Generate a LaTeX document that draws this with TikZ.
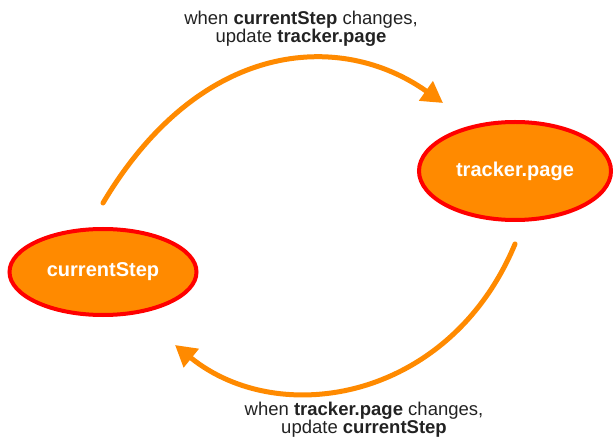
\documentclass[tikz,border=0pt]{standalone}
\usepackage{fontspec}
\setmainfont{Liberation Sans}
\usetikzlibrary{shapes.geometric,arrows.meta}
\definecolor{fillorange}{HTML}{FF8A00}
\definecolor{rimred}{HTML}{FF0000}
\definecolor{labelgray}{HTML}{222222}

\begin{document}
\begin{tikzpicture}[x=1bp,y=-1bp,
	state/.style={ellipse,fill=fillorange,draw=rimred,line width=4bp,inner sep=0pt,
		text=white,font=\fontsize{20bp}{20bp}\selectfont\bfseries},
	flow/.style={draw=fillorange,line width=5bp,line cap=round,
		-{Triangle[length=21bp,width=23bp]}},
	note/.style={align=center,text=labelgray,inner sep=0pt,
		font=\fontsize{18.5bp}{18bp}\selectfont}]
	\useasboundingbox (0,0) rectangle (613,442);
	\foreach \X/\Y/\W/\H/\T [count=\Z] in {103/272/187/86/currentStep,
	515/171/192/98/tracker.page}
	{\node[state,minimum width=\W bp,minimum height=\H bp] (v\Z) at (\X,\Y) {\T};}
	\coordinate (a1) at ([yshift=24bp]v1.north);
	\coordinate (b1) at ([xshift=-72bp,yshift=17bp]v2.north);
	\coordinate (a2) at ([yshift=-22bp]v2.south);
	\coordinate (b2) at ([xshift=72bp,yshift=-28bp]v1.south);
	\draw[flow] (a1) .. controls (200,40) and (340,30) .. (b1);
	\draw[flow] (a2) .. controls (450,400) and (280,430) .. (b2);
	\node[note] (n1) at (301,29) {when \textbf{currentStep} changes,\\update \textbf{tracker.page}};
	\node[note] (n2) at (364,420) {when \textbf{tracker.page} changes,\\update \textbf{currentStep}};
\end{tikzpicture}
\end{document}
